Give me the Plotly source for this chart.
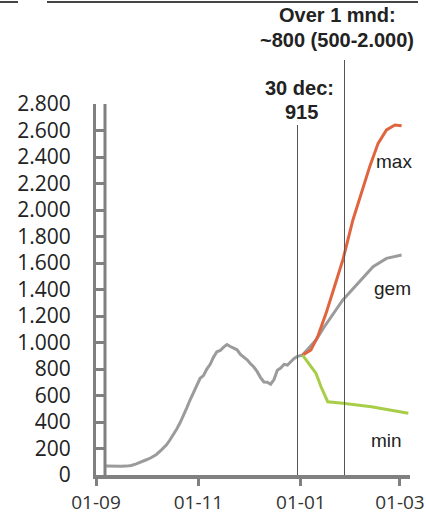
import plotly.graph_objects as go

# History (7-day average) followed by the mean forecast ("gem")
gem_dates = [
    "2020-09-07", "2020-09-10", "2020-09-13", "2020-09-16", "2020-09-19", "2020-09-22",
    "2020-09-25", "2020-09-28", "2020-10-01", "2020-10-04", "2020-10-07", "2020-10-10",
    "2020-10-13", "2020-10-15", "2020-10-17", "2020-10-19", "2020-10-21", "2020-10-23",
    "2020-10-25", "2020-10-27", "2020-10-29", "2020-10-31", "2020-11-02", "2020-11-04",
    "2020-11-06", "2020-11-08", "2020-11-10", "2020-11-12", "2020-11-14", "2020-11-16",
    "2020-11-18", "2020-11-20", "2020-11-22", "2020-11-24", "2020-11-26", "2020-11-28",
    "2020-11-30", "2020-12-02", "2020-12-04", "2020-12-06", "2020-12-08", "2020-12-10",
    "2020-12-12", "2020-12-14", "2020-12-16", "2020-12-18", "2020-12-20", "2020-12-22",
    "2020-12-24", "2020-12-26", "2020-12-28", "2020-12-30", "2021-01-02",
    "2021-01-10", "2021-01-15", "2021-01-26", "2021-02-04", "2021-02-13", "2021-02-21",
    "2021-03-02",
]
gem_values = [
    68, 66, 65, 66, 67, 72,
    84, 98, 115, 132, 155, 190,
    228, 264, 300, 345, 392, 445,
    505, 566, 625, 680, 730, 750,
    800, 835, 890, 930, 940, 965,
    985, 970, 958, 945, 910, 890,
    870, 840, 815, 780, 735, 702,
    700, 685, 720, 790, 807, 835,
    830, 855, 880, 895, 905,
    1019, 1119, 1321, 1447, 1572, 1635,
    1660,
]

max_dates = [
    "2021-01-02", "2021-01-07", "2021-01-11", "2021-01-16", "2021-01-21", "2021-01-26",
    "2021-02-01", "2021-02-06", "2021-02-11", "2021-02-16", "2021-02-21", "2021-02-26",
    "2021-03-02",
]
max_values = [905, 943, 1044, 1220, 1421, 1623, 1925, 2126, 2327, 2503, 2604, 2642, 2635]

min_dates = [
    "2021-01-02", "2021-01-07", "2021-01-10", "2021-01-13", "2021-01-17", "2021-01-26",
    "2021-02-12", "2021-03-06",
]
min_values = [905, 817, 768, 666, 553, 541, 515, 466]

x_tickvals = ["2020-09-01", "2020-11-01", "2021-01-01", "2021-03-01"]
x_ticktext = ["01-09", "01-11", "01-01", "01-03"]
y_tickvals = list(range(0, 2801, 200))

marker_dates = ["2020-12-30", "2021-01-27"]

AXIS = "#808080"
TEXT = "#222222"

# pixel layout of the plot area
W, H = 426, 515
L, R, T, B = 96, 16, 104, 40
PW, PH = W - L - R, H - T - B


def px(x):
    return (x - L) / PW


def py(y):
    return (H - B - y) / PH


fig = go.Figure()
fig.add_scatter(x=gem_dates, y=gem_values, mode="lines",
                line=dict(color="#9b9b9b", width=3), name="gem")
fig.add_scatter(x=max_dates, y=max_values, mode="lines",
                line=dict(color="#e0653f", width=3), name="max")
fig.add_scatter(x=min_dates, y=min_values, mode="lines",
                line=dict(color="#a8cd48", width=3), name="min")

# marker lines
fig.add_shape(type="line", xref="x", yref="paper", x0=marker_dates[0], x1=marker_dates[0],
              y0=0, y1=py(125), line=dict(color="#555555", width=1))
fig.add_shape(type="line", xref="x", yref="paper", x0=marker_dates[1], x1=marker_dates[1],
              y0=0, y1=py(60), line=dict(color="#555555", width=1))

# second rail of the y-axis "ladder"
fig.add_shape(type="line", xref="paper", yref="y", x0=px(105), x1=px(105),
              y0=0, y1=2800, line=dict(color=AXIS, width=3))

# remnant of a border across the top
for a, b in [(0, 18), (47, 418)]:
    fig.add_shape(type="line", xref="paper", yref="paper", x0=px(a), x1=px(b),
                  y0=py(2), y1=py(2), line=dict(color="#444444", width=2))

bold = dict(family="Liberation Sans, Arial", size=20, color=TEXT)
for text, cx, cy in [
    ("<b>Over 1 mnd:</b>", 337, 15),
    ("<b>~800 (500-2.000)</b>", 337, 40),
    ("<b>30 dec:</b>", 299, 88),
    ("<b>915</b>", 301, 112),
]:
    fig.add_annotation(text=text, xref="paper", yref="paper", x=px(cx), y=py(cy),
                       xanchor="center", yanchor="middle", showarrow=False, font=bold)

plain = dict(family="Liberation Sans, Arial", size=19, color=TEXT)
for text, lx, cy in [("max", 374, 162), ("gem", 372, 288), ("min", 369, 440)]:
    fig.add_annotation(text=text, xref="paper", yref="paper", x=px(lx), y=py(cy),
                       xanchor="left", yanchor="middle", showarrow=False, font=plain)

fig.update_layout(
    width=W, height=H,
    margin=dict(l=L, r=R, t=T, b=B, autoexpand=False),
    showlegend=False,
    separators=",.",
    plot_bgcolor="white",
    paper_bgcolor="white",
    font=dict(family="Open Sans", color=TEXT),
)
fig.update_xaxes(
    type="date",
    range=["2020-09-01", "2021-03-07"],
    tickvals=x_tickvals, ticktext=x_ticktext,
    tickfont=dict(family="Open Sans", size=19, color="#333333"),
    showline=True, linecolor=AXIS, linewidth=4,
    ticks="outside", ticklen=7, tickwidth=3, tickcolor=AXIS,
    showgrid=False, zeroline=False, automargin=False,
)
fig.update_yaxes(
    range=[0, 2800],
    tickvals=y_tickvals, tickformat=",d",
    tickfont=dict(family="Open Sans", size=21, color="#222222"),
    showline=True, linecolor=AXIS, linewidth=3,
    ticks="inside", ticklen=9, tickwidth=3, tickcolor=AXIS,
    ticklabelstandoff=18,
    showgrid=False, zeroline=False, automargin=False,
)

# drop the default page margin so the figure sits at the window's corner
fig.write_html("out.html", config={"displayModeBar": False},
               post_script="document.body.style.margin='0';")
